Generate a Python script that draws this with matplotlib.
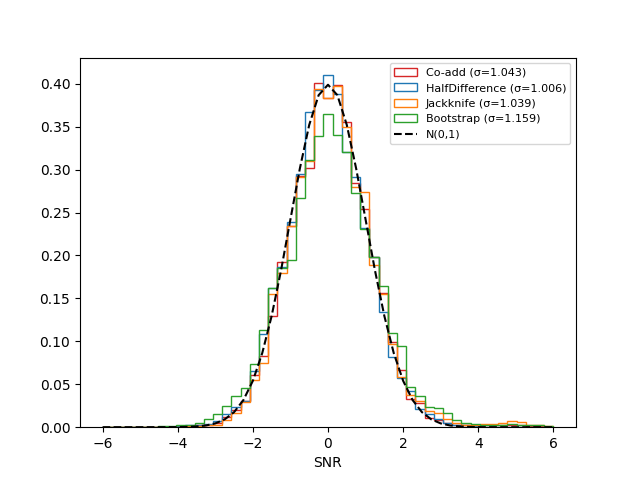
import numpy as np
import matplotlib
matplotlib.use("Agg")
import matplotlib.pyplot as plt

# 49 bins between -6 and 6
n_bins = 49
snr_min, snr_max = -6, 6

coadd = [0, 0, 0, 0, 0, 0, 0, 0.0005, 0.001, 0.001,
         0.002, 0.003, 0.005, 0.012, 0.020, 0.031, 0.061, 0.083, 0.130, 0.192,
         0.234, 0.293, 0.302, 0.401, 0.384, 0.399, 0.356, 0.284, 0.254, 0.198,
         0.156, 0.099, 0.067, 0.033, 0.028, 0.011, 0.008, 0.005, 0.003, 0.002,
         0.002, 0.002, 0.002, 0.002, 0.003, 0.002, 0.001, 0.001, 0.0005]

halfdiff = [0, 0, 0, 0, 0, 0, 0.0003, 0.0005, 0.001, 0.002,
            0.003, 0.004, 0.007, 0.015, 0.024, 0.031, 0.066, 0.108, 0.162, 0.187,
            0.239, 0.295, 0.367, 0.393, 0.410, 0.388, 0.321, 0.292, 0.232, 0.198,
            0.134, 0.082, 0.057, 0.042, 0.021, 0.015, 0.009, 0.005, 0.003, 0.002,
            0.001, 0.0005, 0.0005, 0.0005, 0.0005, 0.0005, 0.0005, 0.0005, 0.0005]

jackknife = [0, 0, 0, 0, 0, 0, 0, 0.0005, 0.0005, 0.001,
             0.001, 0.002, 0.003, 0.008, 0.016, 0.029, 0.055, 0.075, 0.155, 0.180,
             0.234, 0.292, 0.310, 0.394, 0.384, 0.398, 0.350, 0.280, 0.274, 0.189,
             0.155, 0.097, 0.058, 0.038, 0.030, 0.019, 0.016, 0.010, 0.005, 0.003,
             0.003, 0.004, 0.004, 0.005, 0.0074, 0.0055, 0.003, 0.002, 0.001]

bootstrap = [0, 0, 0, 0, 0.0005, 0.0005, 0.001, 0.001, 0.002, 0.003,
             0.005, 0.009, 0.015, 0.025, 0.036, 0.046, 0.074, 0.113, 0.162, 0.186,
             0.195, 0.267, 0.311, 0.339, 0.365, 0.340, 0.321, 0.273, 0.231, 0.198,
             0.164, 0.110, 0.094, 0.047, 0.036, 0.024, 0.022, 0.016, 0.008, 0.005,
             0.004, 0.003, 0.003, 0.003, 0.004, 0.003, 0.003, 0.002, 0.001]

series = [
    ("Co-add (σ=1.043)", coadd, "tab:red"),
    ("HalfDifference (σ=1.006)", halfdiff, "tab:blue"),
    ("Jackknife (σ=1.039)", jackknife, "tab:orange"),
    ("Bootstrap (σ=1.159)", bootstrap, "tab:green"),
]

# reference normal curve N(0,1)
norm_x = [-6, -5, -4, -3.75, -3.5, -3.25, -3, -2.75, -2.5, -2.25, -2, -1.75, -1.5,
          -1.25, -1, -0.75, -0.5, -0.25, 0, 0.25, 0.5, 0.75, 1, 1.25, 1.5, 1.75,
          2, 2.25, 2.5, 2.75, 3, 3.25, 3.5, 3.75, 4, 5, 6]
norm_y = [0.0, 0.0, 0.0001, 0.0004, 0.0009, 0.0020, 0.0044, 0.0091, 0.0175, 0.0317,
          0.0540, 0.0863, 0.1295, 0.1826, 0.2420, 0.3011, 0.3521, 0.3867, 0.3989,
          0.3867, 0.3521, 0.3011, 0.2420, 0.1826, 0.1295, 0.0863, 0.0540, 0.0317,
          0.0175, 0.0091, 0.0044, 0.0020, 0.0009, 0.0004, 0.0001, 0.0, 0.0]

edges = np.linspace(snr_min, snr_max, n_bins + 1)
centers = 0.5 * (edges[:-1] + edges[1:])

fig, ax = plt.subplots(figsize=(6.4, 4.8), dpi=100)

for label, values, color in series:
    ax.hist(centers, bins=edges, weights=values, histtype="step",
            color=color, label=label)

ax.plot(norm_x, norm_y, "k--", label="N(0,1)")

ax.set_xlabel("SNR")
ax.legend(loc="upper right", fontsize=8)

fig.savefig("out.png")
